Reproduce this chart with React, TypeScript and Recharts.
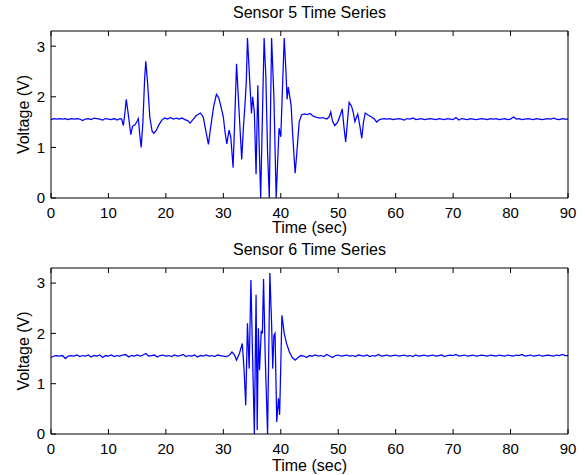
import { LineChart, Line, XAxis, YAxis } from "recharts";

// Time series: [time (sec), voltage (V)]
const sensor5: [number, number][] = [
  [0, 1.55], [0.5, 1.57], [1, 1.56], [1.5, 1.57], [2, 1.56], [2.5, 1.57], [3, 1.55], [3.5, 1.57],
  [4, 1.56], [4.5, 1.57], [5, 1.56], [5.5, 1.53], [6, 1.56], [6.5, 1.57], [7, 1.55], [7.5, 1.58],
  [8, 1.57], [8.5, 1.56], [9, 1.54], [9.5, 1.57], [10, 1.56], [10.5, 1.55], [11, 1.57], [11.5, 1.54],
  [12, 1.57], [12.3, 1.56], [12.6, 1.43], [12.9, 1.72], [13.1, 1.95], [13.4, 1.7], [13.9, 1.25],
  [14.2, 1.42], [14.6, 1.44], [15.0, 1.52], [15.2, 1.57], [15.5, 1.2], [15.7, 1.0], [16.0, 1.5],
  [16.3, 2.35], [16.5, 2.7], [16.8, 2.3], [17.2, 1.6], [17.6, 1.32], [17.9, 1.28], [18.3, 1.33],
  [18.8, 1.45], [19.3, 1.54], [19.8, 1.58], [20.3, 1.56], [20.8, 1.59], [21.3, 1.56], [21.8, 1.58],
  [22.3, 1.56], [22.8, 1.58], [23.3, 1.55], [23.8, 1.53], [24.2, 1.48], [24.7, 1.55], [25.3, 1.63],
  [26.0, 1.68], [26.5, 1.6], [27.0, 1.3], [27.4, 1.06], [27.8, 1.4], [28.3, 1.8], [28.8, 2.05],
  [29.2, 1.98], [29.6, 1.8], [30.0, 1.6], [30.3, 1.3], [30.6, 1.07], [31.0, 1.34], [31.3, 1.2],
  [31.7, 0.6], [32.0, 1.6], [32.3, 2.65], [32.7, 1.8], [33.2, 0.76], [33.5, 1.4], [33.8, 1.9],
  [34.0, 2.3], [34.2, 3.16], [34.6, 2.3], [34.9, 1.67], [35.1, 2.0], [35.4, 1.7], [35.7, 0.47],
  [36.0, 2.23], [36.2, 1.2], [36.5, 0], [36.8, 1.6], [37.1, 3.16], [37.4, 2.4], [37.7, 0.9],
  [38.0, 0], [38.4, 3.16], [38.8, 2.0], [39.2, 0], [39.7, 1.38], [40.0, 1.21], [40.6, 3.16],
  [40.9, 2.5], [41.1, 1.95], [41.3, 2.19], [41.8, 1.83], [42.1, 1.2], [42.5, 0.49], [42.8, 0.9],
  [43.2, 1.5], [43.6, 1.64], [44.1, 1.66], [44.6, 1.65], [45.1, 1.67], [45.6, 1.62], [46.1, 1.6],
  [46.8, 1.58], [47.3, 1.59], [48.0, 1.56], [48.4, 1.6], [48.7, 1.7], [49.0, 1.52], [49.4, 1.43],
  [49.9, 1.5], [50.4, 1.65], [50.7, 1.76], [51.0, 1.4], [51.3, 1.11], [51.6, 1.5], [51.9, 1.89],
  [52.3, 1.82], [52.6, 1.7], [52.9, 1.51], [53.4, 1.66], [53.8, 1.4], [54.1, 1.18], [54.4, 1.5],
  [54.7, 1.68], [55.2, 1.64], [55.8, 1.6], [56.3, 1.56], [56.7, 1.5], [57.2, 1.55], [57.5, 1.56],
  [58, 1.57], [58.5, 1.56], [59, 1.57], [59.5, 1.55], [60, 1.56], [60.5, 1.57], [61, 1.56], [61.5, 1.54],
  [62, 1.57], [62.5, 1.56], [63, 1.58], [63.5, 1.55], [64, 1.56], [64.5, 1.57], [65, 1.55], [65.5, 1.56],
  [66, 1.57], [66.5, 1.56], [67, 1.55], [67.5, 1.57], [68, 1.56], [68.5, 1.55], [69, 1.57], [69.5, 1.56],
  [70, 1.55], [70.5, 1.59], [71, 1.54], [71.5, 1.57], [72, 1.56], [72.5, 1.55], [73, 1.57], [73.5, 1.56],
  [74, 1.55], [74.5, 1.56], [75, 1.57], [75.5, 1.56], [76, 1.55], [76.5, 1.57], [77, 1.56], [77.5, 1.57],
  [78, 1.55], [78.5, 1.56], [79, 1.57], [79.5, 1.55], [80, 1.56], [80.5, 1.6], [81, 1.56], [81.5, 1.57],
  [82, 1.55], [82.5, 1.56], [83, 1.57], [83.5, 1.56], [84, 1.55], [84.5, 1.57], [85, 1.56], [85.5, 1.55],
  [86, 1.56], [86.5, 1.57], [87, 1.56], [87.5, 1.58], [88, 1.56], [88.5, 1.55], [89, 1.57], [89.5, 1.56],
  [90, 1.56],
];

const sensor6: [number, number][] = [
  [0, 1.52], [0.5, 1.55], [1, 1.56], [1.5, 1.55], [2, 1.56], [2.5, 1.5], [3, 1.55], [3.5, 1.56],
  [4, 1.55], [4.5, 1.57], [5, 1.54], [5.5, 1.56], [6, 1.55], [6.5, 1.57], [7, 1.53], [7.5, 1.56],
  [8, 1.55], [8.5, 1.57], [9, 1.52], [9.5, 1.56], [10, 1.55], [10.5, 1.57], [11, 1.54], [11.5, 1.56],
  [12, 1.55], [12.5, 1.57], [13, 1.58], [13.5, 1.53], [14, 1.56], [14.5, 1.55], [15, 1.57], [15.5, 1.55],
  [16, 1.57], [16.5, 1.6], [17, 1.55], [17.5, 1.56], [18, 1.57], [18.5, 1.53], [19, 1.56], [19.5, 1.57],
  [20, 1.55], [20.5, 1.56], [21, 1.54], [21.5, 1.57], [22, 1.55], [22.5, 1.56], [23, 1.58], [23.5, 1.54],
  [24, 1.56], [24.5, 1.55], [25, 1.57], [25.5, 1.53], [26, 1.56], [26.5, 1.55], [27, 1.57], [27.5, 1.55],
  [28, 1.56], [28.5, 1.54], [29, 1.57], [29.5, 1.56], [30, 1.55], [30.5, 1.54], [31, 1.56], [31.5, 1.63],
  [31.9, 1.58], [32.3, 1.47], [32.8, 1.6], [33.3, 1.8], [33.6, 1.3], [33.9, 0.57], [34.2, 2.2],
  [34.5, 1.3], [34.8, 3.06], [35.1, 1.5], [35.4, 0], [35.7, 2.77], [35.9, 0.08], [36.1, 2.1],
  [36.3, 1.27], [36.6, 2.05], [36.8, 2.0], [37.0, 3.08], [37.3, 1.5], [37.7, 0], [38.1, 3.2],
  [38.4, 2.2], [38.6, 1.3], [38.8, 1.96], [39.0, 2.0], [39.3, 0.24], [39.6, 0.71], [39.8, 0.38],
  [40.2, 2.36], [40.6, 2.0], [41.0, 1.8], [41.5, 1.63], [42.0, 1.52], [42.5, 1.47], [43.0, 1.52],
  [43.5, 1.56], [44, 1.55], [44.5, 1.52], [45, 1.56], [45.5, 1.55], [46, 1.57], [46.5, 1.55], [47, 1.56],
  [47.5, 1.54], [48, 1.58], [48.5, 1.55], [49, 1.52], [49.5, 1.56], [50, 1.57], [50.5, 1.55], [51, 1.56],
  [51.5, 1.57], [52, 1.55], [52.5, 1.56], [53, 1.54], [53.5, 1.57], [54, 1.56], [54.5, 1.55], [55, 1.57],
  [55.5, 1.54], [56, 1.56], [56.5, 1.55], [57, 1.58], [57.5, 1.55], [58, 1.56], [58.5, 1.57], [59, 1.55],
  [59.5, 1.56], [60, 1.57], [60.5, 1.55], [61, 1.56], [61.5, 1.57], [62, 1.55], [62.5, 1.56], [63, 1.54],
  [63.5, 1.57], [64, 1.55], [64.5, 1.56], [65, 1.57], [65.5, 1.55], [66, 1.56], [66.5, 1.57], [67, 1.55],
  [67.5, 1.56], [68, 1.57], [68.5, 1.54], [69, 1.56], [69.5, 1.57], [70, 1.56], [70.5, 1.58], [71, 1.55],
  [71.5, 1.56], [72, 1.57], [72.5, 1.55], [73, 1.56], [73.5, 1.57], [74, 1.55], [74.5, 1.56], [75, 1.57],
  [75.5, 1.56], [76, 1.55], [76.5, 1.57], [77, 1.56], [77.5, 1.55], [78, 1.57], [78.5, 1.56], [79, 1.55],
  [79.5, 1.57], [80, 1.56], [80.5, 1.55], [81, 1.57], [81.5, 1.56], [82, 1.58], [82.5, 1.55], [83, 1.56],
  [83.5, 1.57], [84, 1.55], [84.5, 1.56], [85, 1.57], [85.5, 1.55], [86, 1.56], [86.5, 1.57], [87, 1.56],
  [87.5, 1.55], [88, 1.57], [88.5, 1.56], [89, 1.58], [89.5, 1.56], [90, 1.56],
];

const xTicks = [0, 10, 20, 30, 40, 50, 60, 70, 80, 90];
const yTicks = [0, 1, 2, 3];

const FONT = "'Liberation Sans', Arial, Helvetica, sans-serif";
const tickStyle = { fill: "#000", fontSize: 15, fontFamily: FONT };
const noLabel = () => "";

function Panel({ series, top, height, bottom }: { series: [number, number][]; top: number; height: number; bottom: number }) {
  const data = series.map(([t, v]) => ({ t, v }));
  return (
    <div style={{ position: "absolute", left: 0, top, width: 585, height }}>
      <LineChart width={585} height={height} data={data} margin={{ top: 30, right: 16, bottom, left: 21 }}>
        <XAxis xAxisId="b" dataKey="t" type="number" domain={[0, 90]} ticks={xTicks} interval={0}
          height={30} tickSize={-5} tickMargin={14} tick={tickStyle}
          axisLine={{ stroke: "#000" }} tickLine={{ stroke: "#000" }} />
        <XAxis xAxisId="t" orientation="top" dataKey="t" type="number" domain={[0, 90]} ticks={xTicks} interval={0}
          height={1} tickSize={-5} tickFormatter={noLabel}
          axisLine={{ stroke: "#000" }} tickLine={{ stroke: "#000" }} />
        <YAxis yAxisId="l" type="number" domain={[0, 3.3]} ticks={yTicks} interval={0}
          width={30} tickSize={-5} tickMargin={11} tick={tickStyle}
          axisLine={{ stroke: "#000" }} tickLine={{ stroke: "#000" }} />
        <YAxis yAxisId="r" orientation="right" type="number" domain={[0, 3.3]} ticks={yTicks} interval={0}
          width={1} tickSize={-5} tickFormatter={noLabel}
          axisLine={{ stroke: "#000" }} tickLine={{ stroke: "#000" }} />
        <Line xAxisId="b" yAxisId="l" dataKey="v" type="linear" stroke="#0000ff" strokeWidth={1.25}
          dot={false} isAnimationActive={false} />
      </LineChart>
    </div>
  );
}

export default function App() {
  const text = { fontFamily: FONT, fontSize: 16, fill: "#000" };
  return (
    <div style={{ position: "fixed", left: 0, top: 0, width: 585, height: 475, background: "#fff" }}>
      <Panel series={sensor5} top={0} height={237} bottom={9} />
      <Panel series={sensor6} top={237} height={238} bottom={11} />
      <svg width={585} height={475} style={{ position: "absolute", left: 0, top: 0, pointerEvents: "none" }}>
        <text x={309.5} y={18} textAnchor="middle" {...text}>Sensor 5 Time Series</text>
        <text x={309.5} y={233} textAnchor="middle" {...text}>Time (sec)</text>
        <text x={29} y={114.5} textAnchor="middle" transform="rotate(-90 29 114.5)" {...text}>Voltage (V)</text>
        <text x={309.5} y={255} textAnchor="middle" {...text}>Sensor 6 Time Series</text>
        <text x={309.5} y={471} textAnchor="middle" {...text}>Time (sec)</text>
        <text x={29} y={351} textAnchor="middle" transform="rotate(-90 29 351)" {...text}>Voltage (V)</text>
      </svg>
    </div>
  );
}
